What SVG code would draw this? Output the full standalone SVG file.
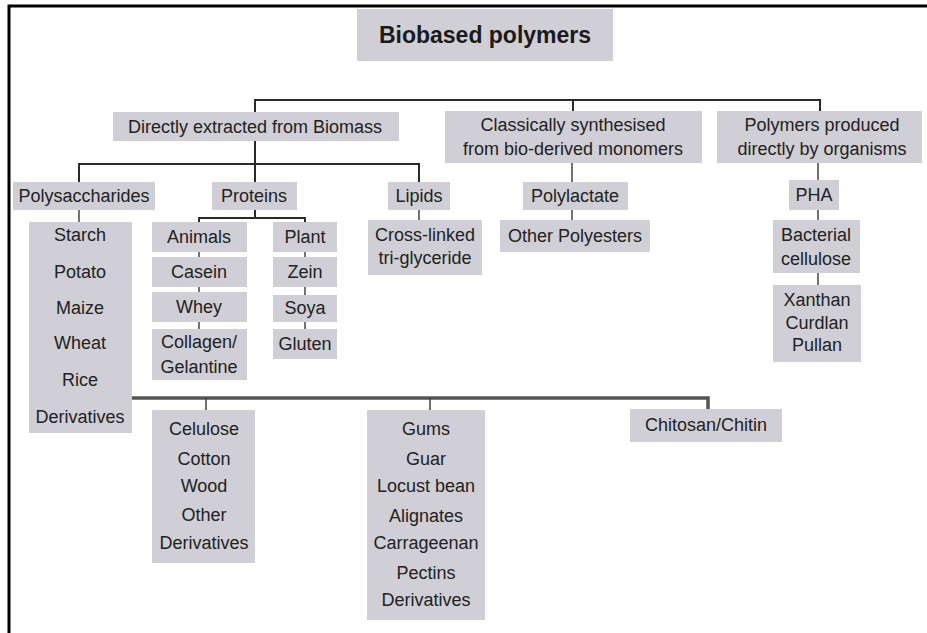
<svg xmlns="http://www.w3.org/2000/svg" width="927" height="633" viewBox="0 0 927 633">
<style>
.box{fill:#cfcfd5;}
.t{font-family:"Liberation Sans",Arial,sans-serif;font-size:18px;fill:#222;text-anchor:middle;}
.title{font-family:"Liberation Sans",Arial,sans-serif;font-size:23px;font-weight:bold;fill:#1a1a1a;text-anchor:middle;}
.c{stroke:#2a2a2a;stroke-width:2;fill:none;}
.thin{stroke:#444;stroke-width:1.5;fill:none;}
.thick{stroke:#555;stroke-width:3.5;fill:none;}
</style>
<rect x="0" y="0" width="927" height="633" fill="#fff"/>
<path d="M9,633 V6 H927" stroke="#000" stroke-width="3" fill="none"/>

<g id="connectors">
  <path class="c" d="M255,112 V100 H820 V112 M573,100 V111"/>
  <path class="c" d="M255,141 V164 M79,182 V164 H419 V182 M255,164 V182"/>
  <path class="thin" d="M79,210 V222 M419,210 V220 M572,163 V182 M572,210 V220 M818,163 V180 M818,210 V220 M818,273 V285"/>
  <path class="c" d="M255,210 V218 M199,222 V218 H305 V222"/>
  <path class="thin" d="M199,252 V257 M199,287 V292 M199,322 V329 M305,252 V257 M305,287 V295 M305,322 V329"/>
  <path class="thick" d="M132,398 H708 V410"/>
  <path class="thin" d="M206,398 V410 M430,398 V410"/>
</g>

<g id="title"><rect class="box" x="357" y="9" width="256" height="52"/><text class="title" x="485" y="43">Biobased polymers</text></g>

<g id="directly"><rect class="box" x="113" y="112" width="286" height="29"/><text class="t" x="255" y="133">Directly extracted from Biomass</text></g>
<g id="classically"><rect class="box" x="445" y="111" width="257" height="52"/><text class="t" x="573" y="131">Classically synthesised</text><text class="t" x="573" y="155">from bio-derived monomers</text></g>
<g id="organisms"><rect class="box" x="717" y="111" width="205" height="52"/><text class="t" x="822" y="131">Polymers produced</text><text class="t" x="822" y="155">directly by organisms</text></g>

<g id="polysaccharides"><rect class="box" x="13" y="182" width="142" height="28"/><text class="t" x="84" y="202">Polysaccharides</text></g>
<g id="starch"><rect class="box" x="29" y="222" width="103" height="211"/>
  <text class="t" x="80" y="241">Starch</text><text class="t" x="80" y="278">Potato</text><text class="t" x="80" y="314">Maize</text><text class="t" x="80" y="349">Wheat</text><text class="t" x="80" y="386">Rice</text><text class="t" x="80" y="423">Derivatives</text></g>

<g id="proteins"><rect class="box" x="212" y="182" width="85" height="28"/><text class="t" x="254" y="202">Proteins</text></g>
<g id="animals"><rect class="box" x="152" y="222" width="95" height="30"/><text class="t" x="199" y="243">Animals</text></g>
<g id="casein"><rect class="box" x="152" y="257" width="95" height="30"/><text class="t" x="199" y="278">Casein</text></g>
<g id="whey"><rect class="box" x="152" y="292" width="95" height="30"/><text class="t" x="199" y="313">Whey</text></g>
<g id="collagen"><rect class="box" x="152" y="329" width="95" height="51"/><text class="t" x="199" y="348">Collagen/</text><text class="t" x="199" y="373">Gelantine</text></g>
<g id="plant"><rect class="box" x="273" y="222" width="64" height="30"/><text class="t" x="305" y="243">Plant</text></g>
<g id="zein"><rect class="box" x="273" y="257" width="64" height="30"/><text class="t" x="305" y="278">Zein</text></g>
<g id="soya"><rect class="box" x="273" y="295" width="64" height="27"/><text class="t" x="305" y="314">Soya</text></g>
<g id="gluten"><rect class="box" x="273" y="329" width="64" height="30"/><text class="t" x="305" y="350">Gluten</text></g>

<g id="lipids"><rect class="box" x="388" y="182" width="62" height="28"/><text class="t" x="419" y="202">Lipids</text></g>
<g id="crosslinked"><rect class="box" x="368" y="220" width="114" height="55"/><text class="t" x="425" y="241">Cross-linked</text><text class="t" x="425" y="264">tri-glyceride</text></g>

<g id="polylactate"><rect class="box" x="523" y="182" width="105" height="28"/><text class="t" x="575" y="202">Polylactate</text></g>
<g id="polyesters"><rect class="box" x="500" y="220" width="150" height="32"/><text class="t" x="575" y="242">Other Polyesters</text></g>

<g id="pha"><rect class="box" x="789" y="180" width="50" height="30"/><text class="t" x="814" y="201">PHA</text></g>
<g id="bacterial"><rect class="box" x="773" y="220" width="87" height="53"/><text class="t" x="816" y="241">Bacterial</text><text class="t" x="816" y="265">cellulose</text></g>
<g id="xanthan"><rect class="box" x="773" y="285" width="88" height="77"/><text class="t" x="817" y="306">Xanthan</text><text class="t" x="817" y="329">Curdlan</text><text class="t" x="817" y="351">Pullan</text></g>

<g id="cellulose"><rect class="box" x="152" y="410" width="103" height="153"/>
  <text class="t" x="204" y="435">Celulose</text><text class="t" x="204" y="465">Cotton</text><text class="t" x="204" y="492">Wood</text><text class="t" x="204" y="521">Other</text><text class="t" x="204" y="549">Derivatives</text></g>
<g id="gums"><rect class="box" x="367" y="410" width="118" height="210"/>
  <text class="t" x="426" y="435">Gums</text><text class="t" x="426" y="465">Guar</text><text class="t" x="426" y="492">Locust bean</text><text class="t" x="426" y="522">Alignates</text><text class="t" x="426" y="549">Carrageenan</text><text class="t" x="426" y="579">Pectins</text><text class="t" x="426" y="606">Derivatives</text></g>
<g id="chitosan"><rect class="box" x="630" y="409" width="152" height="33"/><text class="t" x="706" y="431">Chitosan/Chitin</text></g>
</svg>
